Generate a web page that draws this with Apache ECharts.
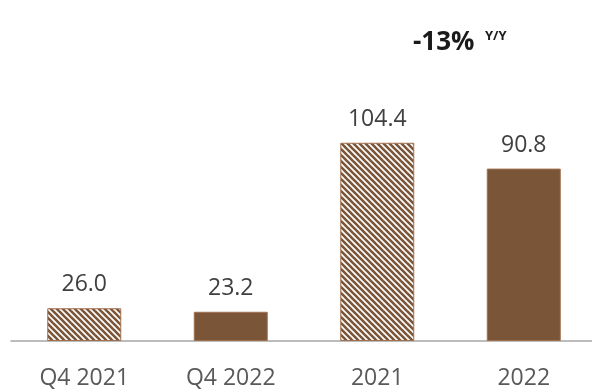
<!DOCTYPE html>
<html>
<head>
<meta charset="utf-8">
<script src="https://cdn.jsdelivr.net/npm/echarts@6/dist/echarts.min.js"></script>
<style>html,body{margin:0;padding:0;background:#fff;}#c{width:592px;height:390px;}</style>
</head>
<body>
<div id="c"></div>
<script>
const categories = ['Q4 2021', 'Q4 2022', '2021', '2022'];
const quarterValues = [26.0, 23.2, '-', '-'];
const annualValues = ['-', '-', 104.4, 90.8];
const hatched = [true, false, true, false];
const headline = '-13%';
const headlineSup = 'Y/Y';

const BROWN = '#7b5538';
const BORDER = '#a0714f';

function makeHatch() {
  const n = 6;
  const c = document.createElement('canvas');
  c.width = n; c.height = n;
  const g = c.getContext('2d');
  g.fillStyle = '#ffffff';
  g.fillRect(0, 0, n, n);
  g.strokeStyle = BROWN;
  g.lineWidth = 2.6;
  for (let k = -1; k <= 1; k++) {
    g.beginPath();
    g.moveTo(k * n - 1, -1);
    g.lineTo(k * n + n + 1, n + 1);
    g.stroke();
  }
  return c;
}
const hatchPattern = { image: makeHatch(), repeat: 'repeat' };

function styled(values) {
  return values.map((v, i) => {
    if (v === '-') return '-';
    return {
      value: v,
      itemStyle: hatched[i]
        ? { color: hatchPattern, borderColor: BORDER, borderWidth: 1 }
        : { color: BROWN, borderColor: BORDER, borderWidth: 1 }
    };
  });
}

const FONT = '"Open Sans", sans-serif';
const labelCfg = {
  show: true,
  position: 'top',
  distance: 12,
  fontFamily: FONT,
  fontSize: 23,
  color: '#404040',
  formatter: p => Number(p.value).toFixed(1)
};

const chart = echarts.init(document.getElementById('c'), null, { renderer: 'canvas' });
chart.setOption({
  animation: false,
  backgroundColor: '#ffffff',
  grid: { left: 11, width: 586, top: 60, bottom: 49, outerBoundsMode: 'none', containLabel: false },
  xAxis: {
    type: 'category',
    data: categories,
    axisLine: { show: true, lineStyle: { color: '#a6a6a6', width: 1.5 } },
    axisTick: { show: false },
    axisLabel: { fontFamily: FONT, fontSize: 23, color: '#595959', margin: 26 }
  },
  yAxis: [
    { type: 'value', min: 0, max: 223, show: false },
    { type: 'value', min: 0, max: 148, show: false }
  ],
  series: [
    {
      type: 'bar', yAxisIndex: 0, data: styled(quarterValues),
      barWidth: 74, barGap: '-100%', label: labelCfg
    },
    {
      type: 'bar', yAxisIndex: 1, data: styled(annualValues),
      barWidth: 74, barGap: '-100%', label: labelCfg
    }
  ],
  graphic: [
    {
      type: 'text', left: 413, top: 30,
      style: { text: headline, font: 'bold 26px "Open Sans", sans-serif', fill: '#1a1a1a' }
    },
    {
      type: 'text', left: 485, top: 30,
      style: { text: headlineSup, font: 'bold 13px "Open Sans", sans-serif', fill: '#1a1a1a' }
    }
  ]
});
</script>
</body>
</html>
